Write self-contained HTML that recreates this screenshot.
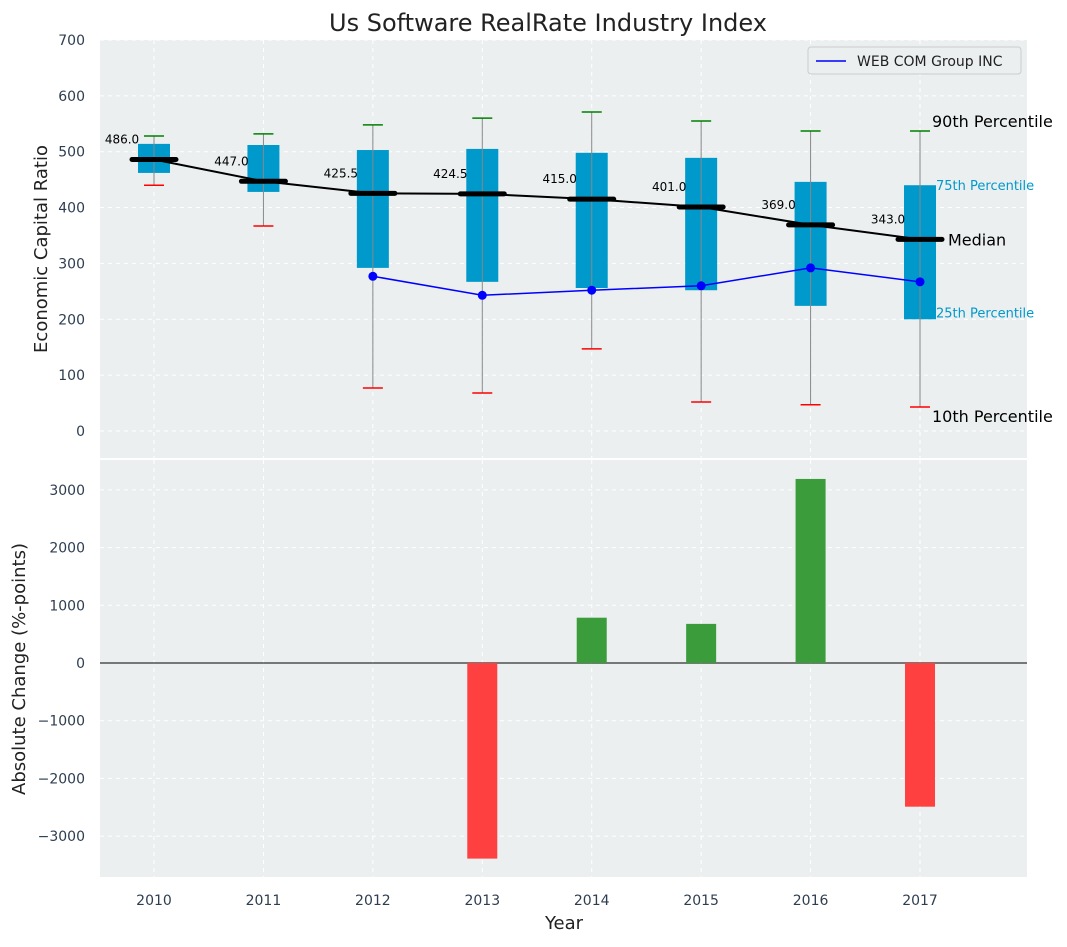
<!DOCTYPE html>
<html><head><meta charset="utf-8"><style>
body{margin:0;background:#fff;font-family:"Liberation Sans","DejaVu Sans",sans-serif}
svg text{font-family:"DejaVu Sans","Liberation Sans",sans-serif}
</style></head><body>
<svg id="c" width="1067" height="942" xmlns="http://www.w3.org/2000/svg"></svg>
<script>
const years=[2010,2011,2012,2013,2014,2015,2016,2017];
const medians=[486.0,447.0,425.5,424.5,415.0,401.0,369.0,343.0];
const q1=[462,428,292,267,256,252,224,200];
const q3=[514,512,503,505,498,489,446,440];
const p10=[440,367,77,68,147,52,47,43];
const p90=[528,532,548,560,571,555,537,537];
const companyYears=[2012,2013,2014,2015,2016,2017];
const companyVals=[277,243,252,260,292,267];
const changeYears=[2013,2014,2015,2016,2017];
const changeVals=[-3390,785,678,3190,-2490];
const topTicks=[0,100,200,300,400,500,600,700];
const botTicks=[-3000,-2000,-1000,0,1000,2000,3000];

const NS="http://www.w3.org/2000/svg";
const svg=document.getElementById('c');
function el(t,a,p){const e=document.createElementNS(NS,t);for(const k in a)e.setAttribute(k,a[k]);(p||svg).appendChild(e);return e;}
const L=100,R=1027;
const x=y=>154+(y-2010)*109.43;
const T0=40,T1=458,B0=460,B1=877;
const yt=v=>431-v*0.5586;
const yb=v=>663-v*0.0577;
const tc="#2e3e50";

// backgrounds
let r=el('rect',{x:L,y:T0,width:R-L,height:T1-T0,fill:'#ebeff0'});

r=el('rect',{x:L,y:B0,width:R-L,height:B1-B0,fill:'#ebeff0'});


// grids
years.forEach(yr=>{
 el('line',{x1:x(yr),x2:x(yr),y1:T0,y2:T1,stroke:'#fff','stroke-dasharray':'4,4'});
 el('line',{x1:x(yr),x2:x(yr),y1:B0,y2:B1,stroke:'#fff','stroke-dasharray':'4,4'});
 const t=el('text',{x:x(yr),y:905,'text-anchor':'middle','font-size':14,fill:tc});t.textContent=yr;
 
});
topTicks.forEach(v=>{
 el('line',{x1:L,x2:R,y1:yt(v),y2:yt(v),stroke:'#fff','stroke-dasharray':'4,4'});
 const t=el('text',{x:85,y:yt(v)+5,'text-anchor':'end','font-size':14,fill:tc});t.textContent=v;
 
});
botTicks.forEach(v=>{
 el('line',{x1:L,x2:R,y1:yb(v),y2:yb(v),stroke:'#fff','stroke-dasharray':'4,4'});
 const t=el('text',{x:85,y:yb(v)+5,'text-anchor':'end','font-size':14,fill:tc});t.textContent=(v<0?'\u2212'+(-v):v);
 
});

// boxes
years.forEach((yr,i)=>{
 const cx=x(yr);
 const b=el('rect',{x:cx-16,y:yt(q3[i]),width:32,height:yt(q1[i])-yt(q3[i]),fill:'#0099cc'});
 
 el('line',{x1:cx,x2:cx,y1:yt(p10[i]),y2:yt(p90[i]),stroke:'#888','stroke-width':1});
 el('line',{x1:cx-10,x2:cx+10,y1:yt(p90[i]),y2:yt(p90[i]),stroke:'green','stroke-width':1.5});
 el('line',{x1:cx-10,x2:cx+10,y1:yt(p10[i]),y2:yt(p10[i]),stroke:'red','stroke-width':1.5});
});
// median line
let pts=years.map((yr,i)=>x(yr)+','+yt(medians[i])).join(' ');
let pl=el('polyline',{points:pts,fill:'none',stroke:'#000','stroke-width':2});

years.forEach((yr,i)=>{
 const cx=x(yr);
 el('line',{x1:cx-22,x2:cx+22,y1:yt(medians[i]),y2:yt(medians[i]),stroke:'#000','stroke-width':5,'stroke-linecap':'round'});
 const t=el('text',{x:cx-32,y:yt(medians[i])-16,'text-anchor':'middle','font-size':12,fill:'#000'});t.textContent=medians[i].toFixed(1);
 
});
// company line
pts=companyYears.map((yr,i)=>x(yr)+','+yt(companyVals[i])).join(' ');
pl=el('polyline',{points:pts,fill:'none',stroke:'blue','stroke-width':1.5});

companyYears.forEach((yr,i)=>{const c=el('circle',{cx:x(yr),cy:yt(companyVals[i]),r:4.5,fill:'blue'});
 });

// annotations (last year)
const li=years.length-1, ax=x(years[li]);
function ann(txt,xx,yy,sz,col,nm){const t=el('text',{x:xx,y:yy,'font-size':sz,fill:col});t.textContent=txt;}
ann('90th Percentile',ax+12,yt(p90[li])-4,16,'#000','p90-annotation');
ann('75th Percentile',ax+16,yt(q3[li])+5,13,'#0099cc','p75-annotation');
ann('Median',ax+28,yt(medians[li])+6,16,'#000','median-annotation');
ann('25th Percentile',ax+16,yt(q1[li])-2,13,'#0099cc','p25-annotation');
ann('10th Percentile',ax+12,yt(p10[li])+15,16,'#000','p10-annotation');

// legend
const lg=el('g',{});
el('rect',{x:808,y:47,width:213,height:27,fill:'#ebeff0',stroke:'#ccc',rx:3},lg);
el('line',{x1:816,x2:846,y1:61,y2:61,stroke:'blue','stroke-width':1.5},lg);
const lt=el('text',{x:857,y:66,'font-size':14,fill:'#222'},lg);lt.textContent='WEB COM Group INC';

// bars
el('line',{x1:L,x2:R,y1:yb(0),y2:yb(0),stroke:'#000','stroke-width':1});
changeYears.forEach((yr,i)=>{const v=changeVals[i];
 const b=el('rect',{x:x(yr)-15,y:Math.min(yb(0),yb(v)),width:30,height:Math.abs(yb(v)-yb(0)),fill:v>=0?'#3a9c3a':'#ff4040'});
 });

// titles
ann('Us Software RealRate Industry Index',0,0,24,'#222','chart-title');
let t=svg.lastChild;t.setAttribute('x',548);t.setAttribute('y',31);t.setAttribute('text-anchor','middle');
t=el('text',{x:0,y:0,'font-size':18,fill:'#222','text-anchor':'middle',transform:'translate(47,249) rotate(-90)'});t.textContent='Economic Capital Ratio';

t=el('text',{x:0,y:0,'font-size':18,fill:'#222','text-anchor':'middle',transform:'translate(25,669) rotate(-90)'});t.textContent='Absolute Change (%-points)';

t=el('text',{x:564,y:929,'font-size':18,fill:'#222','text-anchor':'middle'});t.textContent='Year';

</script>
</body></html>
